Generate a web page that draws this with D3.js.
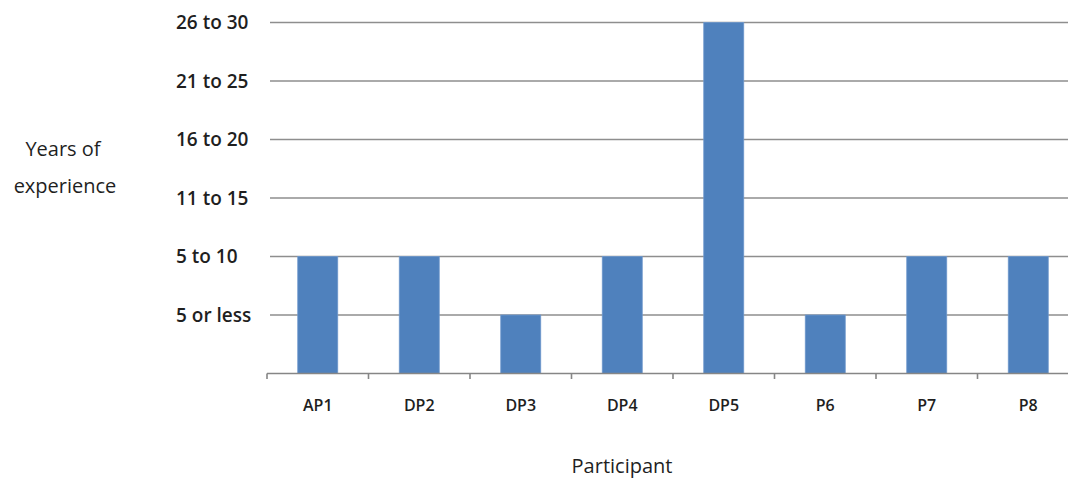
<!DOCTYPE html>
<html>
<head>
<meta charset="utf-8">
<script src="https://cdn.jsdelivr.net/npm/d3@7"></script>
<style>
  html, body { margin: 0; padding: 0; background: #ffffff; }
  svg { display: block; }
  text { font-family: "Open Sans", "Noto Sans", sans-serif; fill: #1f1f1f; }
</style>
</head>
<body>
<svg id="chart" width="1068" height="479"></svg>
<script>
// Participants and their experience band (index into experienceLevels, 1-based)
const participants = ["AP1", "DP2", "DP3", "DP4", "DP5", "P6", "P7", "P8"];
const experienceBand = [2, 2, 1, 2, 6, 1, 2, 2];
const experienceLevels = ["5 or less", "5 to 10", "11 to 15", "16 to 20", "21 to 25", "26 to 30"];

const svg = d3.select("#chart");
const W = 1068, H = 479;

const plot = { left: 267, right: 1079, top: 22.5, bottom: 373.5 };

const x = d3.scaleBand()
  .domain(participants)
  .range([plot.left, plot.right])
  .paddingInner(0.606)
  .paddingOuter(0.303);

const y = d3.scaleLinear()
  .domain([0, experienceLevels.length])
  .range([plot.bottom, plot.top]);

const step = x.step();

// Horizontal gridlines at each experience band
svg.append("g")
  .selectAll("line")
  .data(d3.range(1, experienceLevels.length + 1))
  .join("line")
  .attr("x1", plot.left + 3)
  .attr("x2", W)
  .attr("y1", d => y(d))
  .attr("y2", d => y(d))
  .attr("stroke", "#8e8e8e")
  .attr("stroke-width", 1.6);

// Y tick labels, left aligned
svg.append("g")
  .selectAll("text")
  .data(experienceLevels)
  .join("text")
  .attr("x", 176)
  .attr("y", (d, i) => y(i + 1) + 6.5)
  .attr("font-size", 19)
  .attr("font-weight", 600)
  .text(d => d);

// Bars
svg.append("g")
  .selectAll("rect")
  .data(participants.map((p, i) => ({ p, v: experienceBand[i] })))
  .join("rect")
  .attr("x", d => x(d.p))
  .attr("width", x.bandwidth())
  .attr("y", d => y(d.v))
  .attr("height", d => y(0) - y(d.v))
  .attr("fill", "#4f81bd")
  .attr("stroke", "#6f98cc")
  .attr("stroke-width", 0.8);

// X axis baseline with ticks between categories
const axis = svg.append("g");
axis.append("line")
  .attr("x1", plot.left)
  .attr("x2", W)
  .attr("y1", plot.bottom)
  .attr("y2", plot.bottom)
  .attr("stroke", "#868686")
  .attr("stroke-width", 1.6);

const tickXs = participants.map(p => x(p) - (step - x.bandwidth()) / 2);
axis.selectAll("line.tick")
  .data(tickXs)
  .join("line")
  .attr("class", "tick")
  .attr("x1", d => d)
  .attr("x2", d => d)
  .attr("y1", plot.bottom)
  .attr("y2", plot.bottom + 5.5)
  .attr("stroke", "#868686")
  .attr("stroke-width", 1.6);

// Category labels
axis.selectAll("text")
  .data(participants)
  .join("text")
  .attr("x", d => x(d) + x.bandwidth() / 2)
  .attr("y", 411)
  .attr("text-anchor", "middle")
  .attr("font-size", 16)
  .attr("font-weight", 600)
  .text(d => d);

// Axis titles
svg.append("text")
  .attr("x", 622)
  .attr("y", 473)
  .attr("text-anchor", "middle")
  .attr("font-size", 20)
  .text("Participant");

const yTitle = svg.append("text")
  .attr("text-anchor", "middle")
  .attr("font-size", 20);
yTitle.append("tspan").attr("x", 63).attr("y", 156).text("Years of");
yTitle.append("tspan").attr("x", 65).attr("y", 193).text("experience");
</script>
</body>
</html>
